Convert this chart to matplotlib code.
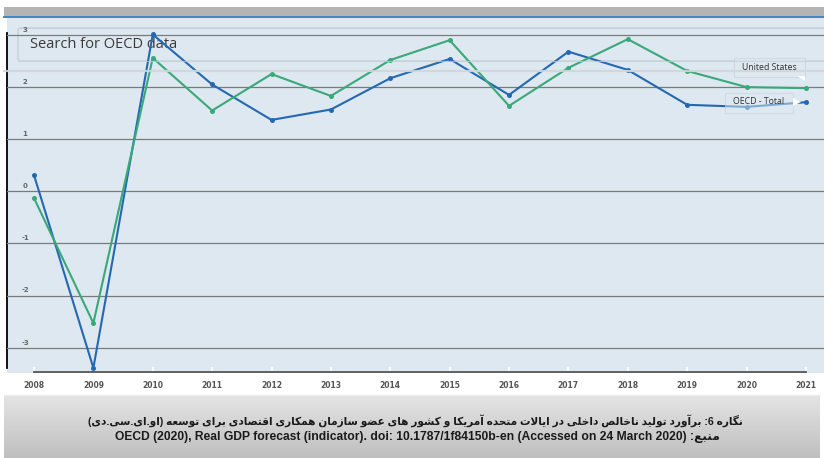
import unicodedata
import numpy as np
import matplotlib
matplotlib.use("Agg")
import matplotlib.pyplot as plt
from matplotlib.patches import Rectangle, FancyBboxPatch, Polygon
import matplotlib.transforms as mtrans

# data
years = [2008, 2009, 2010, 2011, 2012, 2013, 2014, 2015, 2016, 2017, 2018, 2019, 2020, 2021]
oecd_total = [0.31, -3.39, 3.01, 2.05, 1.37, 1.57, 2.17, 2.54, 1.85, 2.68, 2.33, 1.66, 1.62, 1.71]
united_states = [-0.13, -2.53, 2.56, 1.55, 2.25, 1.83, 2.52, 2.90, 1.64, 2.37, 2.92, 2.31, 2.00, 1.98]
series_names = ["OECD - Total", "United States"]
y_ticks = [-3, -2, -1, 0, 1, 2, 3]
caption_fa = "نگاره 6: برآورد تولید ناخالص داخلی در ایالات متحده آمریکا و کشور های عضو سازمان همکاری اقتصادی برای توسعه (او.ای.سی.دی)"
caption_src = "منبع: OECD (2020), Real GDP forecast (indicator). doi: 10.1787/1f84150b-en (Accessed on 24 March 2020)"
search_text = "Search for OECD data"

BLUE = "#2568b2"
GREEN = "#3aa878"
BG = "#dde8f0"

# --- persian shaping + simple bidi (matplotlib does neither) ---
RIGHT_JOIN = set("اآأإدذرزژوؤ")

def is_ar(c):
    return "\u0621" <= c <= "\u06ff" and unicodedata.name(c, "").startswith("ARABIC LETTER")

def dual(c):
    return is_ar(c) and c not in RIGHT_JOIN and c != "ء"

def form_of(c, f):
    try:
        return unicodedata.lookup(unicodedata.name(c) + " " + f + " FORM")
    except KeyError:
        return c

def shape(s):
    out = []
    i = 0
    while i < len(s):
        c = s[i]
        if not is_ar(c):
            out.append(c); i += 1; continue
        jp = i > 0 and dual(s[i-1])
        if c == "ل" and i + 1 < len(s) and s[i+1] in "اآ":
            nm = "ARABIC LIGATURE LAM WITH ALEF" + (" WITH MADDA ABOVE" if s[i+1] == "آ" else "")
            out.append(unicodedata.lookup(nm + (" FINAL FORM" if jp else " ISOLATED FORM")))
            i += 2; continue
        jn = dual(c) and i + 1 < len(s) and is_ar(s[i+1])
        f = "MEDIAL" if (jp and jn) else "FINAL" if jp else "INITIAL" if jn else "ISOLATED"
        out.append(form_of(c, f))
        i += 1
    return "".join(out)

def visual(s):
    s = shape(s)
    def cls(c):
        if c.isascii() and c.isalnum():
            return "L"
        if "\u0600" <= c <= "\u06ff" or "\ufb50" <= c <= "\ufeff":
            return "R"
        return "N"
    k = [cls(c) for c in s]
    res = []
    for i, t in enumerate(k):
        if t != "N":
            res.append(t); continue
        p = next((k[j] for j in range(i-1, -1, -1) if k[j] != "N"), None)
        n = next((k[j] for j in range(i+1, len(k)) if k[j] != "N"), None)
        res.append("L" if p == "L" and n in ("L", None) else "R")
    runs = []
    for c, t in zip(s, res):
        if runs and runs[-1][0] == t:
            runs[-1][1].append(c)
        else:
            runs.append([t, [c]])
    mirror = {"(": ")", ")": "("}
    parts = []
    for t, cs in reversed(runs):
        if t == "R":
            parts.append("".join(mirror.get(c, c) for c in reversed(cs)))
        else:
            parts.append("".join(cs))
    return "".join(parts)

fig = plt.figure(figsize=(8.24, 4.58), dpi=100)

# background in pixel coords
bg = fig.add_axes([0, 0, 1, 1])
bg.set_xlim(0, 824)
bg.set_ylim(458, 0)
bg.axis("off")
bg.add_patch(Rectangle((4, 7), 820, 9, color="#b4b4b4", lw=0))
bg.add_patch(Rectangle((7, 17), 817, 356, color=BG, lw=0))
bg.plot([4, 824], [16.5, 16.5], color="#2e7cc4", lw=1.3)
bg.plot([7, 7], [33, 368], color="black", lw=1.3)
bg.add_patch(FancyBboxPatch((18, 28), 830, 33, boxstyle="round,pad=0,rounding_size=3",
                            fc="none", ec="#c7d0d7", lw=1.0))
bg.plot([18, 824], [28, 28], color="#c7d0d7", lw=0.8)
bg.text(30, 44.5, search_text, fontsize=10.5, color="#3a3a3a", family="Open Sans",
        va="center", ha="left")
# caption panel with a vertical gradient
grad = np.linspace(0, 1, 64)[:, None]
bg.imshow(grad, extent=(4, 820, 458, 395), cmap=matplotlib.colors.LinearSegmentedColormap.from_list(
    "g", ["#e4e4e4", "#d2d2d2", "#bfbfbf"]), aspect="auto", zorder=1)
bg.plot([4, 820], [394.5, 394.5], color="#ececec", lw=1)
bg.text(415, 421, visual(caption_fa), fontsize=7.6, fontweight="bold", ha="center", va="center",
        family=["Liberation Sans", "DejaVu Sans"], color="#1a1a1a", zorder=2)
bg.text(417, 437, visual(caption_src), fontsize=8.7, fontweight="bold", ha="center", va="center",
        family=["Liberation Sans", "DejaVu Sans"], color="#1a1a1a", zorder=2)

# data axes, mapped to the plot region of the screenshot
ax = fig.add_axes([7/824, 1 - 373/458, 817/824, 356/458])
ax.set_zorder(2)
ax.patch.set_alpha(0)
px_x = 59.38
px_y = 52.1
ax.set_xlim(years[0] - 27/px_x, years[0] + 790/px_x)
ax.set_ylim(-(373 - 191.3)/px_y, (191.3 - 17)/px_y)
for s in ax.spines.values():
    s.set_visible(False)
ax.set_xticks([])
ax.set_yticks([])

for v in y_ticks:
    ax.axhline(v, color="#7a7a7a", lw=0.9, zorder=1)
    ax.annotate(str(v), xy=(years[0] - 9/px_x, v), xytext=(0, 3.6), textcoords="offset points",
                ha="center", va="center", fontsize=5, fontweight="bold", color="#666666")

trans = mtrans.blended_transform_factory(ax.transData, ax.transAxes)
ax.plot([years[0], years[-1]], [0.002, 0.002], transform=trans, color="#555555", lw=1.3,
        clip_on=False)
ax.vlines(years, 0.006, 0.016, transform=trans, color="white", lw=1.2)
for yr in years:
    ax.text(yr, -0.034, str(yr), transform=trans, ha="center", va="center", fontsize=5.5,
            fontweight="bold", color="#555555", clip_on=False)

ax.plot(years, oecd_total, color=BLUE, lw=1.5, marker="o", ms=3.6, mec=BLUE, mew=0, zorder=3)
ax.plot(years, united_states, color=GREEN, lw=1.5, marker="o", ms=3.6, mec=GREEN, mew=0, zorder=3)

# overlay (pixel coords) above the lines
top = fig.add_axes([0, 0, 1, 1])
top.set_zorder(3)
top.patch.set_alpha(0)
top.set_xlim(0, 824)
top.set_ylim(458, 0)
top.axis("off")
top.plot([4, 824], [70.5, 70.5], color="#d2d6d9", lw=1.6, alpha=0.9)
top.plot([18, 824], [61, 61], color="#c7d0d7", lw=0.8, alpha=0.7)
top.add_patch(Rectangle((734, 58), 71, 19, fc=BG, ec="#c2d2de", lw=0.8, alpha=0.6))
top.text(769.5, 67, series_names[1], fontsize=6.3, color="#333333", ha="center", va="center",
         family="Open Sans")
top.add_patch(Polygon([(797, 76), (805, 76), (805, 81)], color="white", lw=0))
top.add_patch(Rectangle((725, 93), 68, 19.5, fc=BG, ec="#c2d2de", lw=0.8, alpha=0.5))
top.text(759, 102, series_names[0], fontsize=6.3, color="#333333", ha="center", va="center",
         family="Open Sans")
top.add_patch(Polygon([(793, 98), (801, 102), (793, 106)], color="white", lw=0))

fig.savefig("out.png", dpi=100)
